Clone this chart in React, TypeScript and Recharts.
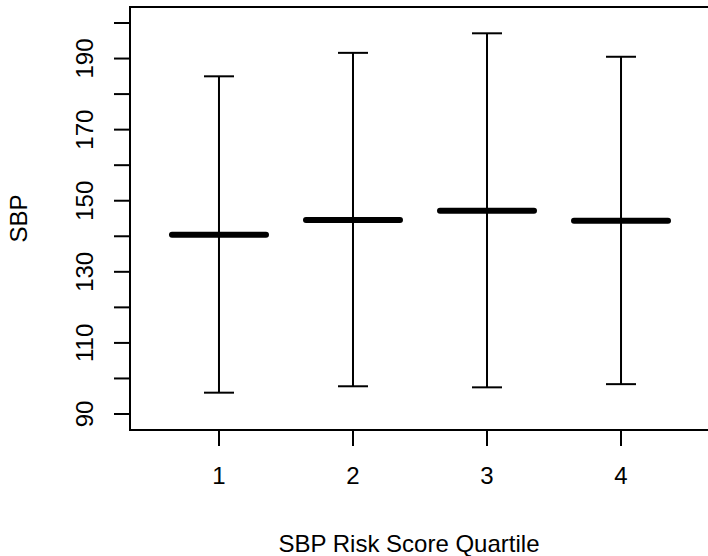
import React from 'react';
import {
  ScatterChart,
  Scatter,
  XAxis,
  YAxis,
  ErrorBar,
  ReferenceArea,
  Label,
} from 'recharts';

// 四分位ごとのSBP（平均・下限・上限）
const quartiles = [1, 2, 3, 4];
const means = [140.4, 144.6, 147.2, 144.4];
const lows = [96.0, 97.8, 97.5, 98.4];
const highs = [185.0, 191.6, 197.1, 190.5];

const yTicks = [90, 100, 110, 120, 130, 140, 150, 160, 170, 180, 190, 200];
const yLabelled = [90, 110, 130, 150, 170, 190];

const X_DOMAIN: [number, number] = [0.336, 4.664];
const Y_DOMAIN: [number, number] = [85.5, 204.5];

const FONT = '"Liberation Sans", Arial, Helvetica, sans-serif';

const data = quartiles.map((q, i) => ({
  x: q,
  mean: means[i],
  err: [means[i] - lows[i], highs[i] - means[i]],
}));

function YTick({ x, y, payload }: any) {
  if (!yLabelled.includes(payload.value)) return null;
  return (
    <text
      transform={`translate(${x - 19},${y}) rotate(-90)`}
      textAnchor="middle"
      fontSize={24}
      fontFamily={FONT}
      fill="#000"
    >
      {payload.value}
    </text>
  );
}

function XTick({ x, y, payload }: any) {
  return (
    <text x={x} y={y + 36} textAnchor="middle" fontSize={24} fontFamily={FONT} fill="#000">
      {payload.value}
    </text>
  );
}

// 平均値の太い横線
function MeanBar({ cx, cy }: any) {
  return (
    <line
      x1={cx - 47}
      x2={cx + 47}
      y1={cy}
      y2={cy}
      stroke="#000"
      strokeWidth={6}
      strokeLinecap="round"
    />
  );
}

export default function App() {
  return (
    <div
      style={{
        position: 'absolute',
        left: 0,
        top: 0,
        width: 708,
        height: 556,
        overflow: 'hidden',
        background: '#fff',
      }}
    >
      <ScatterChart width={712} height={556} margin={{ top: 7, right: 2, left: 0, bottom: 0 }}>
        <XAxis
          type="number"
          dataKey="x"
          domain={X_DOMAIN}
          allowDataOverflow
          ticks={quartiles}
          tick={<XTick />}
          tickSize={16}
          tickLine={{ stroke: '#000', strokeWidth: 2 }}
          axisLine={false}
          height={126}
        >
          <Label
            content={({ viewBox }: any) => (
              <text
                x={viewBox.x + viewBox.width / 2 - 11}
                y={552}
                textAnchor="middle"
                fontSize={24}
                fontFamily={FONT}
                fill="#000"
              >
                SBP Risk Score Quartile
              </text>
            )}
          />
        </XAxis>
        <YAxis
          type="number"
          dataKey="mean"
          domain={Y_DOMAIN}
          allowDataOverflow
          ticks={yTicks}
          tick={<YTick />}
          tickSize={16}
          tickLine={{ stroke: '#000', strokeWidth: 2 }}
          axisLine={false}
          width={130}
        >
          <Label
            content={({ viewBox }: any) => (
              <text
                transform={`translate(27,${viewBox.y + viewBox.height / 2}) rotate(-90)`}
                textAnchor="middle"
                fontSize={24}
                fontFamily={FONT}
                fill="#000"
              >
                SBP
              </text>
            )}
          />
        </YAxis>
        <ReferenceArea
          x1={X_DOMAIN[0]}
          x2={X_DOMAIN[1]}
          y1={Y_DOMAIN[0]}
          y2={Y_DOMAIN[1]}
          fill="none"
          stroke="#000"
          strokeWidth={2}
          fillOpacity={0}
          ifOverflow="visible"
        />
        <Scatter data={data} dataKey="mean" shape={<MeanBar />} isAnimationActive={false}>
          <ErrorBar
            dataKey="err"
            direction="y"
            width={15}
            stroke="#000"
            strokeWidth={2}
            isAnimationActive={false}
          />
        </Scatter>
      </ScatterChart>
    </div>
  );
}
